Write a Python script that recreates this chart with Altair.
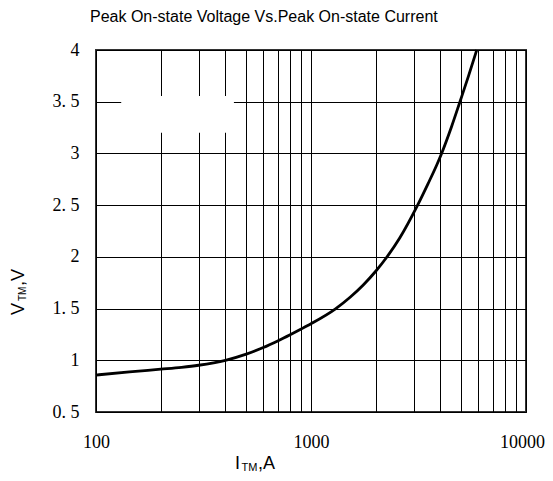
import altair as alt
import pandas as pd

# Curve data
current_a = [100, 143, 200, 250, 300, 400, 500, 600, 700, 800, 900, 1000, 1300,
             1520, 1750, 2000, 2250, 2590, 3120, 3500, 3840, 4050, 4500, 4930, 5400, 5900]
voltage_v = [0.857, 0.888, 0.914, 0.932, 0.952, 1.0, 1.06, 1.123, 1.187, 1.247, 1.302,
             1.353, 1.497, 1.609, 1.728, 1.861, 1.996, 2.185, 2.493, 2.706, 2.886, 3.0,
             3.256, 3.5, 3.747, 4.0]

# Axis ticks / grid
x_grid = [100, 200, 300, 400, 500, 600, 700, 800, 900,
          1000, 2000, 3000, 4000, 5000, 6000, 7000, 8000, 9000, 10000]
x_labels = [100, 1000, 10000]
y_grid = [0.5, 1, 1.5, 2, 2.5, 3, 3.5, 4]

# Empty (white) legend box in data coordinates
box_x = [131, 438]
box_y = [3.2, 3.555]

title_text = "Peak On-state Voltage Vs.Peak On-state Current"

curve = pd.DataFrame({"I": current_a, "V": voltage_v})
box = pd.DataFrame({"x": [box_x[0]], "x2": [box_x[1]], "y": [box_y[0]], "y2": [box_y[1]]})

xscale = alt.Scale(type="log", domain=[100, 10000], nice=False)
yscale = alt.Scale(domain=[0.5, 4], nice=False, zero=False)

label_expr = "indexof([" + ",".join(str(v) for v in x_labels) + "], datum.value) >= 0 ? format(datum.value, 'd') : ''"

xaxis = alt.Axis(values=x_grid, labelExpr=label_expr, grid=True, gridColor="#000",
                 gridOpacity=1, gridWidth=1, ticks=False, tickSize=0, domain=False,
                 labelFont="Liberation Serif", labelFontSize=18, labelColor="#000",
                 labelPadding=21, title=None, labelFlush=False, labelOverlap=False,
                 labelOffset={"condition": {"test": "datum.value >= 10000", "value": -4}, "value": 0})
yaxis = alt.Axis(values=y_grid,
                 labelExpr="datum.value % 1 == 0 ? format(datum.value, 'd') : replace(format(datum.value, '.1f'), '.', '. ')",
                 grid=True, gridColor="#000", gridOpacity=1, gridWidth=1, ticks=False,
                 tickSize=0, domain=False, labelFont="Liberation Serif", labelFontSize=18,
                 labelColor="#000", labelPadding=17, title=None, labelFlush=False,
                 labelOverlap=False)

line = alt.Chart(curve).mark_line(color="#000", strokeWidth=2.8, interpolate="monotone").encode(
    x=alt.X("I:Q", scale=xscale, axis=xaxis),
    y=alt.Y("V:Q", scale=yscale, axis=yaxis),
)

rect = alt.Chart(box).mark_rect(color="white", opacity=1).encode(
    x=alt.X("x:Q", scale=xscale), x2="x2:Q",
    y=alt.Y("y:Q", scale=yscale), y2="y2:Q",
)

def txt(s, x, y, size, angle=0, font="Liberation Sans"):
    kw = dict(align="left", baseline="alphabetic", font=font, fontSize=size, color="#000")
    if angle:
        kw["angle"] = angle
    return alt.Chart(pd.DataFrame({"t": [s]})).mark_text(**kw).encode(
        text="t:N", x=alt.value(x), y=alt.value(y))

title = txt(title_text, -6, -28, 16)
xt1 = txt("I", 139, 419, 18)
xt2 = txt("TM", 145.5, 421, 11)
xt3 = txt(",A", 162, 419, 18)
yt1 = txt("V", -72, 265, 18, angle=270)
yt2 = txt("TM", -70.2, 251, 10, angle=270)
yt3 = txt(",V", -72, 236, 18, angle=270)

chart = alt.layer(rect, line, title, xt1, xt2, xt3, yt1, yt2, yt3).properties(
    width=430, height=362,
    padding={"left": 88, "top": 42, "right": 19, "bottom": 61},
    autosize="none",
).configure_view(stroke="#333", strokeWidth=2)

chart.save("out.html", embed_options={"renderer": "svg", "actions": False})
